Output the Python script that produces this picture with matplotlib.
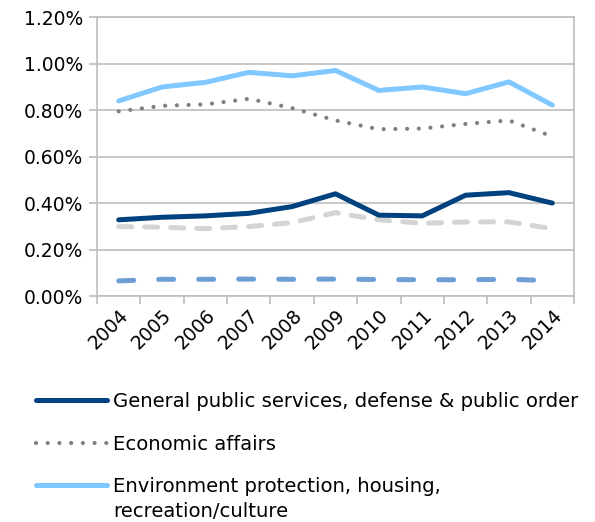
import matplotlib
matplotlib.use("Agg")
import matplotlib.pyplot as plt
from matplotlib.ticker import FuncFormatter, FixedLocator

years = ["2004", "2005", "2006", "2007", "2008", "2009", "2010", "2011", "2012", "2013", "2014"]
general_public = [0.328, 0.339, 0.345, 0.356, 0.385, 0.440, 0.348, 0.345, 0.434, 0.445, 0.400]
economic_affairs = [0.795, 0.819, 0.825, 0.849, 0.809, 0.756, 0.718, 0.721, 0.741, 0.756, 0.687]
environment = [0.840, 0.900, 0.920, 0.963, 0.948, 0.971, 0.885, 0.900, 0.871, 0.922, 0.822]
series_gray = [0.299, 0.296, 0.290, 0.299, 0.316, 0.359, 0.328, 0.313, 0.319, 0.319, 0.290]
series_blue = [0.065, 0.072, 0.072, 0.073, 0.072, 0.073, 0.071, 0.070, 0.070, 0.072, 0.066]

labels = ["General public services, defense & public order",
          "Economic affairs",
          "Environment protection, housing,"]
label3_cont = "recreation/culture"

plt.rcParams['font.family'] = ['DejaVu Sans']

W, H = 595, 522
fig = plt.figure(figsize=(W / 100, H / 100), dpi=100)
ax = fig.add_axes([97/W, 1-296/H, (574-97)/W, (296-17.3)/H])

x = list(range(len(years)))
lw = 3.6
l1, = ax.plot(x, general_public, color="#00427F", lw=lw, solid_capstyle="round", solid_joinstyle="round", zorder=5)
l2, = ax.plot(x, economic_affairs, color="#7F7F7F", lw=3.0, linestyle=(0, (0.01, 2.8)), dash_capstyle="round", zorder=4)
l3, = ax.plot(x, environment, color="#80C8FF", lw=lw, solid_capstyle="round", solid_joinstyle="round", zorder=4)
ax.plot(x, series_gray, color="#D4D4D4", lw=lw, linestyle=(0, (2.6, 2.6)), dash_capstyle="round", zorder=3)
ax.plot(x, series_blue, color="#6F9ED4", lw=lw, linestyle=(0, (3.0, 5.0)), dash_capstyle="round", zorder=3)

fs = 13.5
lfs = 14.1
ax.set_xlim(-0.5, len(years) - 0.5)
ax.set_ylim(0, 1.2)
ax.yaxis.set_major_locator(FixedLocator([0, 0.2, 0.4, 0.6, 0.8, 1.0, 1.2]))
ax.yaxis.set_major_formatter(FuncFormatter(lambda v, p: f"{v:.2f}%"))
ax.grid(axis="y", color="#BEBEBE", lw=1.2)
ax.set_axisbelow(True)

ax.set_xticks([i - 0.5 for i in range(len(years) + 1)])
ax.set_xticklabels([])
ax.set_xticks(x, minor=True)
ax.set_xticklabels(years, minor=True, rotation=45, ha="right", rotation_mode="anchor", fontsize=fs)
ax.tick_params(axis="x", which="minor", length=0, pad=7)
ax.tick_params(axis="x", which="major", length=6, width=1.2, color="#BEBEBE")
ax.tick_params(axis="y", length=6, width=1.2, color="#BEBEBE", labelsize=fs, pad=4)

for s in ax.spines.values():
    s.set_color("#BEBEBE")
    s.set_linewidth(1.2)

leg = fig.legend([l1, l2, l3], labels, loc="upper left", bbox_to_anchor=(36/W, 1-392/H),
                 frameon=False, fontsize=lfs, handlelength=3.65, handletextpad=0.3,
                 labelspacing=1.2, borderaxespad=0, borderpad=0)

fig.canvas.draw()
bb = leg.get_texts()[2].get_window_extent()
fig.text(bb.x0 / W, 1 - 511.7 / H, label3_cont, fontsize=lfs, va="center", ha="left")

fig.savefig("out.png", dpi=100)
